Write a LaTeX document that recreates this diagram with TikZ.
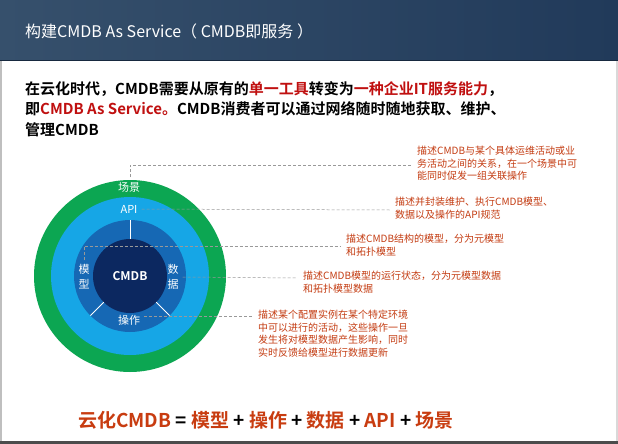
\documentclass[tikz,border=0pt]{standalone}
\usepackage{fontspec}
\newfontfamily\cjk{Noto Sans CJK SC}
\newfontfamily\cjkb{Noto Sans CJK SC Bold}
\usetikzlibrary{calc}
\definecolor{hdrL}{RGB}{54,80,108}
\definecolor{hdrR}{RGB}{33,58,90}
\definecolor{ringG}{RGB}{12,166,82}
\definecolor{ringL}{RGB}{22,166,230}
\definecolor{ringM}{RGB}{22,104,180}
\definecolor{ringC}{RGB}{12,40,96}
\definecolor{note}{RGB}{196,60,18}
\definecolor{emph}{RGB}{192,16,16}
\definecolor{formula}{RGB}{200,60,16}
\tikzset{
  ringlabel/.style={text=white, font=\cjk\fontsize{11}{12}\selectfont, inner sep=0pt},
  notetext/.style={text=note, anchor=north west, align=left, inner sep=0pt,
    font=\cjk\fontsize{10}{12.5}\selectfont},
  leader/.style={draw=black!40, dashed, dash pattern=on 3pt off 2pt, line width=0.5pt},
  divider/.style={draw=white, line width=0.8pt}
}
\begin{document}
\begin{tikzpicture}[x=1pt,y=-1pt]
\useasboundingbox (0,0) rectangle (618,444);
% slide background and frame
\fill[white] (0,0) rectangle (618,444);
\draw[black!25, line width=2pt] (1,0) -- (1,444);
\draw[black!15, line width=2pt] (617,0) -- (617,444);
\fill[black!70] (0,441) rectangle (618,444);
% header band
\shade[left color=hdrL, right color=hdrR] (0,0) rectangle (618,61);
\draw[hdrR!70!black, line width=1pt] (0,61) -- (618,61);
\node[anchor=west, text=white, inner sep=0pt, font=\cjk\fontsize{16}{20}\selectfont] (title) at (25,31)
  {构建CMDB As Service（ CMDB即服务 ）};

% lead paragraph
\node[anchor=north west, align=left, inner sep=0pt, font=\cjkb\fontsize{15}{20.5}\selectfont] (lead) at (25,81)
  {在云化时代，CMDB需要从原有的\textcolor{emph}{单一工具}转变为\textcolor{emph}{一种企业IT服务能力}，\\
   即\textcolor{emph}{CMDB As Service。}CMDB消费者可以通过网络随时随地获取、维护、\\
   管理CMDB};

% concentric rings
\coordinate (c) at (130,276);
\fill[ringG] (c) circle (96);
\fill[ringL] (c) circle (79);
\fill[ringM] (c) circle (56);
\fill[ringC] (c) circle (37);
% sector dividers in the middle ring
\draw[divider] ($(c)+(0,-37)$) -- ($(c)+(0,-56)$);
\draw[divider] ($(c)+(26.2,26.2)$) -- ($(c)+(39.6,39.6)$);
\draw[divider] ($(c)+(-26.2,26.2)$) -- ($(c)+(-39.6,39.6)$);

\node[text=white, inner sep=0pt, font=\cjkb\fontsize{12}{14}\selectfont] (core) at (c) {CMDB};
\node[ringlabel] (scene) at (129,187) {场景};
\node[ringlabel] (api) at (129,209) {API};
\node[ringlabel, align=center, font=\cjk\fontsize{11}{15}\selectfont] (model) at (84,277) {模\\型};
\node[ringlabel, align=center, font=\cjk\fontsize{11}{15}\selectfont] (data) at (173,277) {数\\据};
\node[ringlabel] (ops) at (129,320) {操作};

% descriptions
\node[notetext] (n1) at (417,146) {描述CMDB与某个具体运维活动或业\\务活动之间的关系，在一个场景中可\\能同时促发一组关联操作};
\node[notetext] (n2) at (395,197) {描述并封装维护、执行CMDB模型、\\数据以及操作的API规范};
\node[notetext] (n3) at (346,234) {描述CMDB结构的模型，分为元模型\\和拓扑模型};
\node[notetext] (n4) at (303,271) {描述CMDB模型的运行状态，分为元模型数据\\和拓扑模型数据};
\node[notetext] (n5) at (258,310) {描述某个配置实例在某个特定环境\\中可以进行的活动，这些操作一旦\\发生将对模型数据产生影响，同时\\实时反馈给模型进行数据更新};

% dashed leaders
\coordinate (s1) at (130,177);
\draw[leader] (s1) |- ($(n1.north west)+(-6,19)$);
\draw[leader] (api.east) ++(4,0) -- ($(n2.north west)+(-5,13)$);
\draw[leader] (model.north) ++(0,-4) |- ($(n3.north west)+(-6,12)$);
\draw[leader] (data.east) ++(4,0) -- ($(n4.north west)+(-6,7)$);
\draw[leader] (ops.east) ++(4,-4) -- ($(n5.north west)+(-4,6)$);

% formula
\node[inner sep=0pt, font=\cjkb\fontsize{19}{24}\selectfont, text=formula] (eq) at (266,420)
  {云化CMDB \textcolor{black}{=} 模型 \textcolor{black}{+} 操作 \textcolor{black}{+} 数据 \textcolor{black}{+} API \textcolor{black}{+} 场景};
\end{tikzpicture}
\end{document}
